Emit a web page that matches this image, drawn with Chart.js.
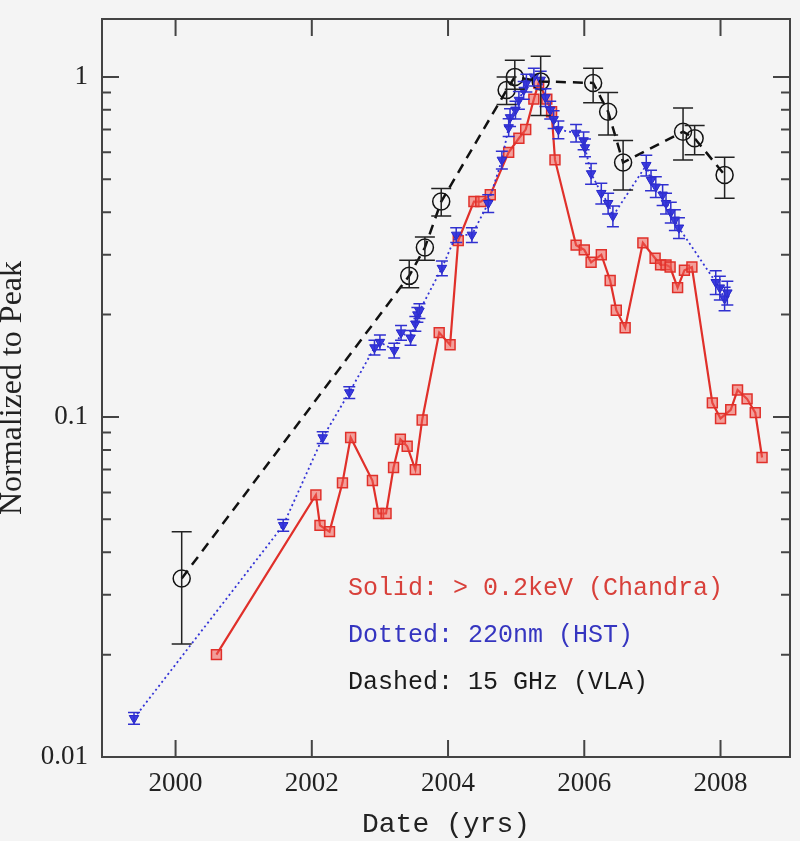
<!DOCTYPE html>
<html>
<head>
<meta charset="utf-8">
<script src="https://cdn.jsdelivr.net/npm/chart.js@4.4.0/dist/chart.umd.min.js"></script>
<style>
  html, body { margin: 0; padding: 0; background: #f4f4f4; }
  #wrap { width: 800px; height: 841px; }
</style>
</head>
<body>
<div id="wrap"><canvas id="lightCurve"></canvas></div>
<script>
// Chandra (> 0.2 keV), solid red
const redYears = [2000.60, 2002.06, 2002.12, 2002.26, 2002.45, 2002.57, 2002.89, 2002.98, 2003.09, 2003.20,
  2003.30, 2003.40, 2003.52, 2003.62, 2003.87, 2004.03, 2004.15, 2004.38, 2004.48, 2004.62,
  2004.89, 2005.04, 2005.14, 2005.26, 2005.33, 2005.45, 2005.52, 2005.57, 2005.88, 2006.00,
  2006.10, 2006.25, 2006.38, 2006.47, 2006.60, 2006.86, 2007.04, 2007.12, 2007.20, 2007.26,
  2007.37, 2007.47, 2007.58, 2007.88, 2008.00, 2008.15, 2008.25, 2008.39, 2008.51, 2008.61];
const redValues = [0.020, 0.059, 0.048, 0.046, 0.064, 0.087, 0.065, 0.052, 0.052, 0.071,
  0.086, 0.082, 0.070, 0.098, 0.177, 0.163, 0.33, 0.43, 0.43, 0.45,
  0.60, 0.66, 0.70, 0.86, 0.96, 0.86, 0.79, 0.57, 0.32, 0.31,
  0.285, 0.30, 0.252, 0.206, 0.183, 0.325, 0.293, 0.28, 0.28, 0.276,
  0.24, 0.27, 0.276, 0.11, 0.099, 0.105, 0.12, 0.113, 0.103, 0.076];

// HST 220nm, dotted blue
const blueYears = [1999.39, 2001.58, 2002.16, 2002.55, 2002.92, 2003.00, 2003.21, 2003.31, 2003.45, 2003.52,
  2003.55, 2003.58, 2003.91, 2004.12, 2004.35, 2004.59, 2004.79, 2004.89, 2004.91, 2004.99,
  2005.04, 2005.11, 2005.15, 2005.26, 2005.36, 2005.43, 2005.50, 2005.55, 2005.62, 2005.88,
  2005.99, 2006.01, 2006.10, 2006.25, 2006.35, 2006.42, 2006.91, 2006.98, 2007.05, 2007.15,
  2007.20, 2007.27, 2007.33, 2007.39, 2007.93, 2007.99, 2008.06, 2008.10];
const blueValues = [0.013, 0.048, 0.087, 0.118, 0.160, 0.166, 0.157, 0.177, 0.171, 0.188,
  0.200, 0.205, 0.274, 0.343, 0.343, 0.425, 0.57, 0.71, 0.76, 0.80,
  0.855, 0.915, 0.96, 1.0, 0.98, 0.87, 0.80, 0.75, 0.70, 0.684,
  0.65, 0.62, 0.52, 0.455, 0.425, 0.39, 0.55, 0.497, 0.475, 0.45,
  0.425, 0.40, 0.38, 0.36, 0.249, 0.24, 0.223, 0.232];
const blueRelErr = [0.04, 0.04, 0.04, 0.04, 0.05, 0.05, 0.05, 0.05, 0.05, 0.05,
  0.05, 0.05, 0.05, 0.05, 0.05, 0.06, 0.06, 0.06, 0.06, 0.06,
  0.06, 0.06, 0.06, 0.06, 0.06, 0.06, 0.06, 0.06, 0.06, 0.06,
  0.06, 0.06, 0.07, 0.07, 0.07, 0.07, 0.07, 0.07, 0.07, 0.07,
  0.07, 0.07, 0.07, 0.07, 0.08, 0.08, 0.08, 0.08];

// VLA 15 GHz, dashed black
const blackYears = [2000.09, 2003.43, 2003.66, 2003.90, 2004.86, 2004.98, 2005.36, 2006.13, 2006.35, 2006.57, 2007.45, 2007.62, 2008.06];
const blackValues = [0.0335, 0.26, 0.315, 0.43, 0.915, 1.0, 0.97, 0.96, 0.79, 0.56, 0.69, 0.66, 0.515];
const blackLow = [0.0215, 0.24, 0.289, 0.39, 0.83, 0.92, 0.77, 0.84, 0.675, 0.465, 0.57, 0.59, 0.44];
const blackHigh = [0.046, 0.289, 0.338, 0.47, 1.0, 1.12, 1.15, 1.06, 0.90, 0.65, 0.81, 0.72, 0.58];

// axis ticks
const xTicks = [2000, 2002, 2004, 2006, 2008];
const yTicks = [0.01, 0.1, 1];
const yMinorTicks = [0.02, 0.03, 0.04, 0.05, 0.06, 0.07, 0.08, 0.09, 0.2, 0.3, 0.4, 0.5, 0.6, 0.7, 0.8, 0.9];

const legendLines = [
  { text: 'Solid: > 0.2keV (Chandra)', color: '#d8403a' },
  { text: 'Dotted: 220nm (HST)', color: '#3535c0' },
  { text: 'Dashed: 15 GHz (VLA)', color: '#1a1a1a' }
];

function toPoints(xs, ys) {
  return xs.map(function(x, i) { return { x: x, y: ys[i] }; });
}

// frame, inward ticks, error bars, text legend
const decorPlugin = {
  id: 'decor',
  afterDatasetsDraw(chart) {
    const ctx = chart.ctx;
    const xs = chart.scales.x, ys = chart.scales.y;
    ctx.save();

    // error bars
    function bar(x, lo, hi, cap, color, lw) {
      const px = xs.getPixelForValue(x);
      const p1 = ys.getPixelForValue(lo), p2 = ys.getPixelForValue(hi);
      ctx.strokeStyle = color;
      ctx.lineWidth = lw;
      ctx.beginPath();
      ctx.moveTo(px, p1); ctx.lineTo(px, p2);
      ctx.moveTo(px - cap, p1); ctx.lineTo(px + cap, p1);
      ctx.moveTo(px - cap, p2); ctx.lineTo(px + cap, p2);
      ctx.stroke();
    }
    blueYears.forEach(function(x, i) {
      const v = blueValues[i], e = blueRelErr[i];
      bar(x, v * (1 - e), v * (1 + e), 6, '#3030d0', 1.5);
    });
    blackYears.forEach(function(x, i) {
      bar(x, blackLow[i], blackHigh[i], 10, '#222222', 1.5);
    });

    const a = chart.chartArea;
    ctx.strokeStyle = '#444444';
    ctx.lineWidth = 2;
    ctx.strokeRect(a.left, a.top, a.right - a.left, a.bottom - a.top);

    ctx.beginPath();
    xTicks.forEach(function(t) {
      const px = xs.getPixelForValue(t);
      ctx.moveTo(px, a.bottom); ctx.lineTo(px, a.bottom - 17);
      ctx.moveTo(px, a.top); ctx.lineTo(px, a.top + 17);
    });
    yTicks.forEach(function(t) {
      const py = ys.getPixelForValue(t);
      ctx.moveTo(a.left, py); ctx.lineTo(a.left + 17, py);
      ctx.moveTo(a.right, py); ctx.lineTo(a.right - 17, py);
    });
    yMinorTicks.forEach(function(t) {
      const py = ys.getPixelForValue(t);
      ctx.moveTo(a.left, py); ctx.lineTo(a.left + 9, py);
      ctx.moveTo(a.right, py); ctx.lineTo(a.right - 9, py);
    });
    ctx.stroke();

    ctx.font = '25px "Liberation Mono"';
    ctx.textBaseline = 'alphabetic';
    ctx.textAlign = 'left';
    legendLines.forEach(function(l, i) {
      ctx.fillStyle = l.color;
      ctx.fillText(l.text, 348, 595 + i * 47);
    });
    ctx.restore();
  }
};

const ctx = document.getElementById('lightCurve').getContext('2d');
const lightCurve = new Chart(ctx, {
  type: 'line',
  data: {
    datasets: [
      {
        label: 'VLA',
        data: toPoints(blackYears, blackValues),
        borderColor: '#111111',
        borderWidth: 2.5,
        borderDash: [10, 7],
        pointStyle: 'circle',
        pointRadius: 8.5,
        pointBorderWidth: 1.5,
        pointBorderColor: '#111111',
        pointBackgroundColor: 'rgba(0,0,0,0)',
        fill: false
      },
      {
        label: 'HST',
        data: toPoints(blueYears, blueValues),
        borderColor: '#3333d6',
        borderWidth: 1.8,
        borderDash: [2, 3],
        pointStyle: 'triangle',
        rotation: 180,
        pointRadius: 5.5,
        pointBorderWidth: 1,
        pointBorderColor: '#2626c8',
        pointBackgroundColor: '#3a3ae0',
        fill: false
      },
      {
        label: 'Chandra',
        data: toPoints(redYears, redValues),
        borderColor: '#e0302a',
        borderWidth: 2.2,
        pointStyle: 'rect',
        pointRadius: 7,
        pointBorderWidth: 1.5,
        pointBorderColor: '#e0302a',
        pointBackgroundColor: 'rgba(240,90,80,0.55)',
        fill: false
      }
    ]
  },
  options: {
    responsive: true,
    maintainAspectRatio: false,
    animation: false,
    layout: { padding: { top: 19, right: 7, left: 0, bottom: 0 } },
    plugins: {
      legend: { display: false },
      tooltip: { enabled: false }
    },
    scales: {
      x: {
        type: 'linear',
        min: 1998.92,
        max: 2009.02,
        grid: { display: false, drawTicks: false },
        border: { display: false },
        afterBuildTicks: function(scale) {
          scale.ticks = xTicks.map(function(v) { return { value: v }; });
        },
        afterFit: function(scale) {
          scale.height = 84;
          scale.paddingLeft = 0;
          scale.paddingRight = 0;
        },
        ticks: {
          padding: 11,
          color: '#222222',
          font: { family: 'Liberation Serif', size: 27 },
          maxRotation: 0,
          callback: function(value) { return String(value); }
        },
        title: {
          display: true,
          text: 'Date (yrs)',
          color: '#222222',
          font: { family: 'Liberation Mono', size: 28, lineHeight: 1 },
          padding: { top: 0, bottom: 2 }
        }
      },
      y: {
        type: 'logarithmic',
        min: 0.01,
        max: 1.48,
        grid: { display: false, drawTicks: false },
        border: { display: false },
        afterBuildTicks: function(scale) {
          scale.ticks = yTicks.map(function(v) { return { value: v }; });
        },
        afterFit: function(scale) {
          scale.width = 102;
          scale.paddingTop = 0;
          scale.paddingBottom = 0;
        },
        ticks: {
          padding: 14,
          color: '#222222',
          font: { family: 'Liberation Serif', size: 27 },
          callback: function(value) { return String(value); }
        },
        title: {
          display: true,
          text: 'Normalized to Peak',
          color: '#222222',
          font: { family: 'Liberation Serif', size: 32, lineHeight: 0.8 },
          padding: 0
        }
      }
    }
  },
  plugins: [decorPlugin]
});
</script>
</body>
</html>
